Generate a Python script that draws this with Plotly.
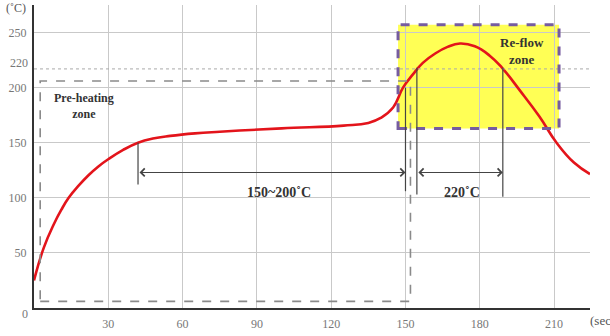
import plotly.graph_objects as go

# ---- data ----
time_s = [0, 4, 8, 11, 14, 18, 22, 26, 30, 36, 42, 48, 55, 65, 75, 100, 125, 135, 140, 145, 149, 153, 157, 162, 167, 172, 178, 184, 189, 196, 204, 211, 218, 224.5]
temp_c = [25, 55, 76, 89, 100, 111, 120.5, 128.5, 135, 143.5, 150, 153.8, 156.2, 158.5, 160, 163, 165.5, 168, 172.5, 182, 200, 212, 222.5, 231, 237, 240, 237.5, 229, 218, 198, 174, 150, 132, 121.6]
x_ticks = [30, 60, 90, 120, 150, 180, 210]
y_ticks = [50, 100, 150, 200, 250]
y_extra_ticks = [0, 220]

preheat_t = [2.5, 152]
preheat_T = [6, 206]
reflow_t = [147, 212]
reflow_T = [163, 257]
soak_span = [42, 150]
reflow_span = [154.6, 189.3]

FONT = "Liberation Serif"
GRID = "#c9c9c9"
DARK = "#444444"

fig = go.Figure()
fig.add_trace(go.Scatter(x=time_s, y=temp_c, mode="lines",
                         line=dict(color="#e3141b", width=2.6, shape="spline", smoothing=1.3),
                         hoverinfo="skip"))

shapes = []
# yellow reflow zone
shapes.append(dict(type="rect", xref="x", yref="y", x0=reflow_t[0], x1=reflow_t[1],
                   y0=reflow_T[0], y1=reflow_T[1], fillcolor="rgb(255,255,85)",
                   line=dict(width=0), layer="below"))
# dotted 220 line
shapes.append(dict(type="line", xref="paper", yref="y", x0=0, x1=1, y0=217, y1=217,
                   line=dict(color="#aaaaaa", width=1, dash="dot"), layer="above"))
# pre-heating dashed box
shapes.append(dict(type="rect", xref="x", yref="y", x0=preheat_t[0], x1=preheat_t[1],
                   y0=preheat_T[0], y1=preheat_T[1],
                   line=dict(color="#8a8a8a", width=1.6, dash="dash"), layer="above"))
# purple dashed border of reflow zone
shapes.append(dict(type="rect", xref="x", yref="y", x0=reflow_t[0], x1=reflow_t[1],
                   y0=reflow_T[0], y1=reflow_T[1],
                   line=dict(color="rgb(118,92,160)", width=3, dash="dash"), layer="above"))
# vertical marker lines
for (t, ya, yb) in [(soak_span[0], 150, 112), (soak_span[1], 200, 106),
                    (reflow_span[0], 218, 103), (reflow_span[1], 218, 101)]:
    shapes.append(dict(type="line", xref="x", yref="y", x0=t, x1=t, y0=ya, y1=yb,
                       line=dict(color=DARK, width=1.2), layer="above"))
fig.update_layout(shapes=shapes)

ann = []
for span in (soak_span, reflow_span):
    ann.append(dict(x=span[1], y=123, ax=span[0], ay=123, xref="x", yref="y",
                    axref="x", ayref="y", text="", showarrow=True,
                    arrowhead=4, arrowside="end+start", arrowsize=1.4,
                    arrowwidth=1.1, arrowcolor=DARK, standoff=0, startstandoff=0))
ann.append(dict(x=99, y=105, xref="x", yref="y", text="<b>150~200˚C</b>", showarrow=False,
                font=dict(family=FONT, size=14, color="#333333")))
ann.append(dict(x=173, y=105, xref="x", yref="y", text="<b>220˚C</b>", showarrow=False,
                font=dict(family=FONT, size=14, color="#333333")))
ann.append(dict(x=20, y=183, xref="x", yref="y", text="<b>Pre-heating<br>zone</b>",
                showarrow=False, font=dict(family=FONT, size=12, color="#333333")))
ann.append(dict(x=197, y=233, xref="x", yref="y", text="<b>Re-flow<br>zone</b>",
                showarrow=False, font=dict(family=FONT, size=13, color="#333333")))
for v, ys in zip(y_extra_ticks, [-6, 3]):
    ann.append(dict(x=0, y=v, xref="paper", yref="y", text=str(v),
                    showarrow=False, xanchor="right", xshift=-4, yshift=ys,
                    font=dict(family=FONT, size=12, color="#777777")))
ann.append(dict(x=0, y=1, xref="paper", yref="paper", text="(˚C)", showarrow=False,
                xanchor="right", yanchor="middle", xshift=-6, yshift=-3,
                font=dict(family=FONT, size=12, color="#555555")))
ann.append(dict(x=1, y=0, xref="paper", yref="paper", text="(sec)", showarrow=False,
                xanchor="left", yanchor="middle", xshift=-2, yshift=-12,
                font=dict(family=FONT, size=13, color="#555555")))
fig.update_layout(annotations=ann)

fig.update_xaxes(range=[0, 224.5], tickvals=x_ticks, ticktext=[str(v) for v in x_ticks],
                 showgrid=True, gridcolor=GRID, gridwidth=1, zeroline=False,
                 showline=True, linecolor="#333333", linewidth=2,
                 tickfont=dict(family=FONT, size=12, color="#777777"), ticks="",
                 ticklabelstandoff=4)
fig.update_yaxes(range=[0, 275], tickvals=y_ticks, ticktext=[str(v) for v in y_ticks],
                 showgrid=True, gridcolor=GRID, gridwidth=1, zeroline=False,
                 showline=True, linecolor="#333333", linewidth=2,
                 tickfont=dict(family=FONT, size=12, color="#777777"), ticks="",
                 ticklabelstandoff=3)

fig.update_layout(width=610, height=336, margin=dict(l=34, r=20, t=5, b=26),
                  paper_bgcolor="white", plot_bgcolor="white", showlegend=False)

fig.write_html("out.html")
